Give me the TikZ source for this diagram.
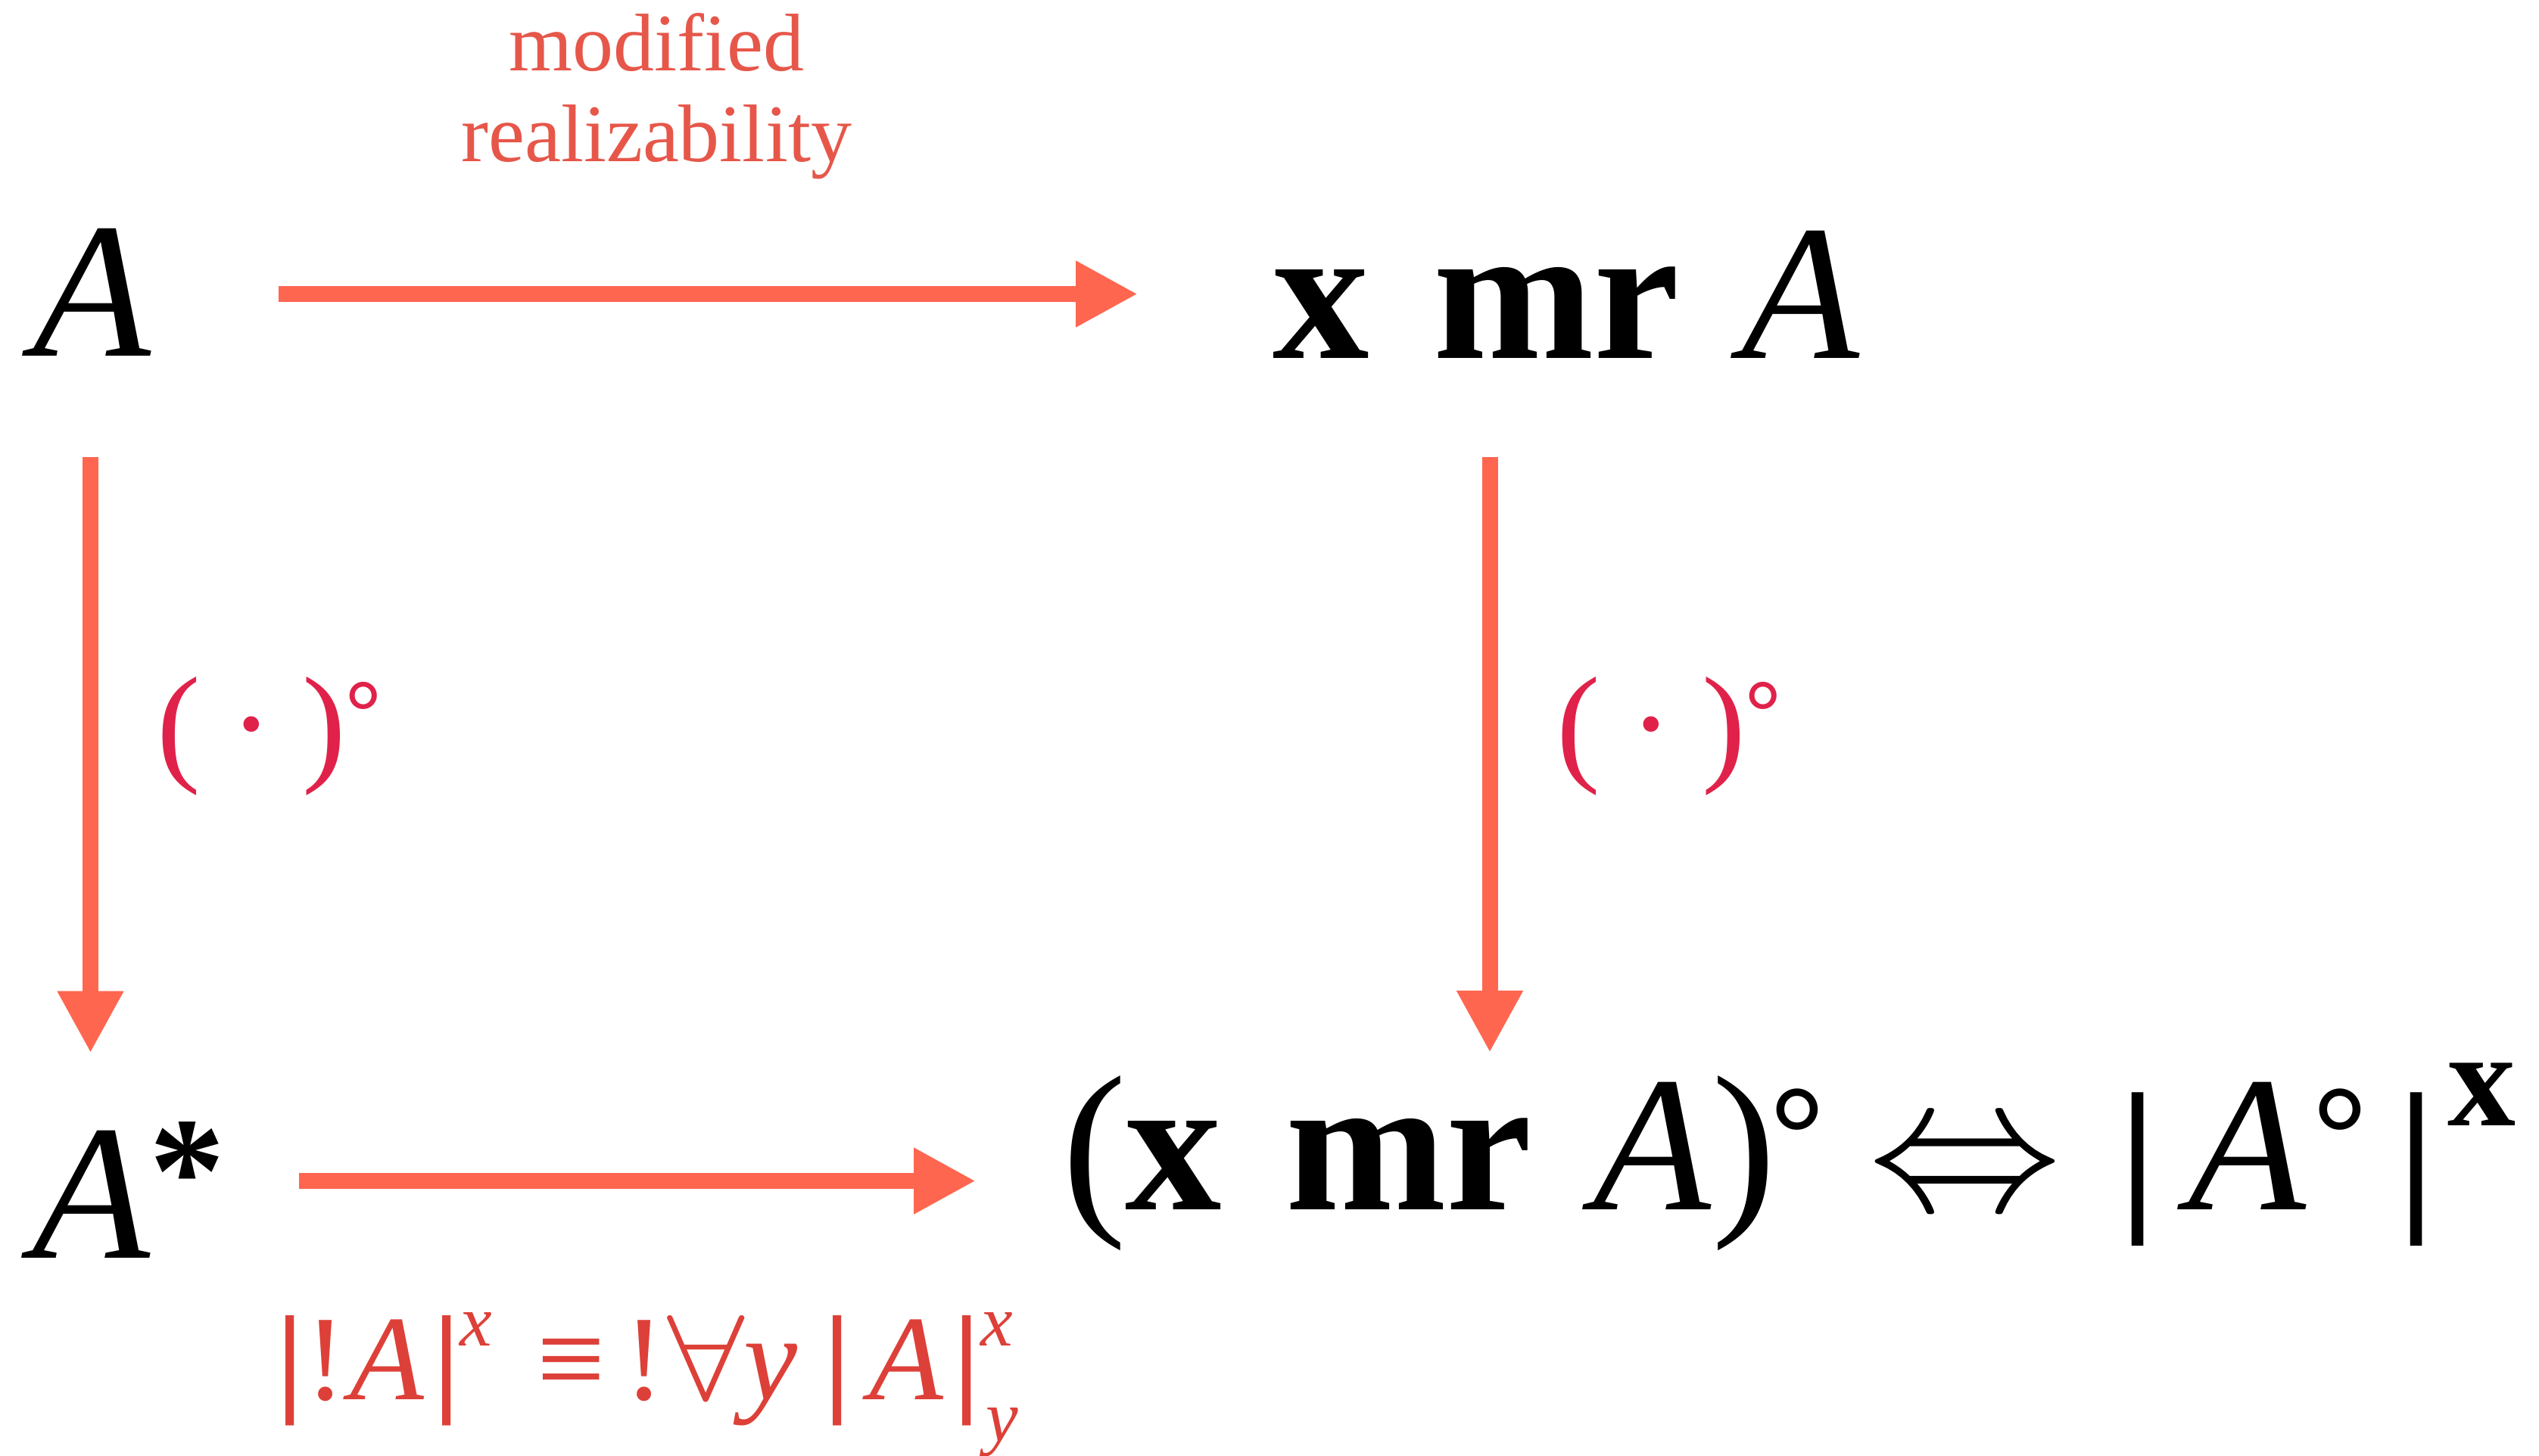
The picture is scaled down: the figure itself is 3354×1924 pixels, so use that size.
\RequirePackage{fix-cm}
\documentclass[tikz,border=0pt]{standalone}
\usepackage{fontspec}
\usepackage{graphicx}
\setmainfont{Liberation Serif}
\usetikzlibrary{arrows.meta}
\definecolor{arrowc}{HTML}{FF6650}
\definecolor{opc}{HTML}{E0224A}
\definecolor{topc}{HTML}{E6574A}
\definecolor{botc}{HTML}{DD4038}
\newcommand\gat[2]{\rlap{\hspace*{#1pt}\makebox[0pt][c]{#2}}}
\newcommand\fs[1]{\fontsize{#1}{#1}\selectfont}
\begin{document}
\begin{tikzpicture}[x=1pt,y=-1pt,
  lbl/.style={inner sep=0pt, outer sep=0pt, anchor=base west},
  arr/.style={draw=arrowc, line width=21pt, -{Triangle[length=82pt,width=82pt]}}]
\fill[white] (0,0) rectangle (3354,1924);
\useasboundingbox (0,0) rectangle (3354,1924);

% top label
\node[inner sep=0pt, anchor=base, text=topc] (nT) at (867,94)
  {\fontsize{108}{120}\selectfont\vtop{\hbox to 520pt{\hss modified\hss}\hbox to 520pt{\hss realizability\hss}}};

% top-left A
\node[lbl] (nA) at (31,470.7) {\fs{255}\gat{90.5}{\textit{A}}\hspace*{157pt}};

% top-right x mr A
\node[lbl] (nXA) at (1686,473) {\fs{255}\gat{59.5}{\textbf{x}}\gat{370}{\textbf{mr}}\gat{693}{\textit{A}}\hspace*{758pt}};

% bottom-left A*
\node[lbl] (nAs) at (31,1662) {\fs{255}\gat{90}{\textit{A}}\gat{216}{\raisebox{48pt}{\fs{200}\textbf{*}}}\hspace*{256pt}};

% bottom-right formula
\node[lbl] (nBR) at (1418,1598) {\fs{255}%
\gat{28}{(}%
\gat{132.5}{\textbf{x}}%
\gat{443}{\textbf{mr}}%
\gat{765}{\textit{A}}%
\gat{886}{)}%
\gat{956}{\raisebox{40pt}{\fs{180}\textbf{°}}}%
\gat{1178}{$\Leftrightarrow$}%
\gat{1406.5}{\fs{223}\textbf{|}}%
\gat{1551}{\textit{A}}%
\gat{1673}{\raisebox{40pt}{\fs{180}\textbf{°}}}%
\gat{1774}{\fs{223}\textbf{|}}%
\gat{1860}{\raisebox{111pt}{\fs{180}\textbf{x}}}%
\hspace*{1903pt}};

% bottom red formula
\node[lbl, text=botc] (nBot) at (377,1849) {\fs{160}%
\gat{6.5}{\textbf{|}}%
\gat{53.5}{!}%
\gat{135}{\textit{A}}%
\gat{213.5}{\textbf{|}}%
\gat{252}{\raisebox{71pt}{\fs{96}\textit{x}}}%
\gat{378}{≡}%
\gat{474.5}{!}%
\gat{555.5}{\scalebox{1.15}[1]{$\forall$}}%
\gat{641}{\textit{y}}%
\gat{729}{\textbf{|}}%
\gat{821}{\textit{A}}%
\gat{900}{\textbf{|}}%
\gat{939.5}{\raisebox{71pt}{\fs{96}\textit{x}}}%
\gat{947}{\raisebox{-55pt}{\fs{96}\textit{y}}}%
\hspace*{972pt}};

% (.)° labels
\node[lbl, text=opc] (nOL) at (216,1014) {\fs{173}\gat{20.5}{(}\gat{116}{·}\gat{212.5}{)}\gat{264.5}{\raisebox{34pt}{\fs{119}\textbf{°}}}\hspace*{281pt}};
\node[lbl, text=opc] (nOR) at (2065,1014) {\fs{173}\gat{20.5}{(}\gat{116}{·}\gat{212}{)}\gat{264}{\raisebox{34pt}{\fs{119}\textbf{°}}}\hspace*{281pt}};

% arrows
\coordinate (a1s) at (368,388.5);
\coordinate (a1e) at (1503,388.5);
\coordinate (a2s) at (119.5,604);
\coordinate (a2e) at (119.5,1391.5);
\coordinate (a3s) at (1968,604);
\coordinate (a3e) at (1968,1391);
\coordinate (a4s) at (395,1560.5);
\coordinate (a4e) at (1289,1560.5);
\draw[arr] (a1s) -- (a1e);
\draw[arr] (a2s) -- (a2e);
\draw[arr] (a3s) -- (a3e);
\draw[arr] (a4s) -- (a4e);
\end{tikzpicture}
\end{document}
